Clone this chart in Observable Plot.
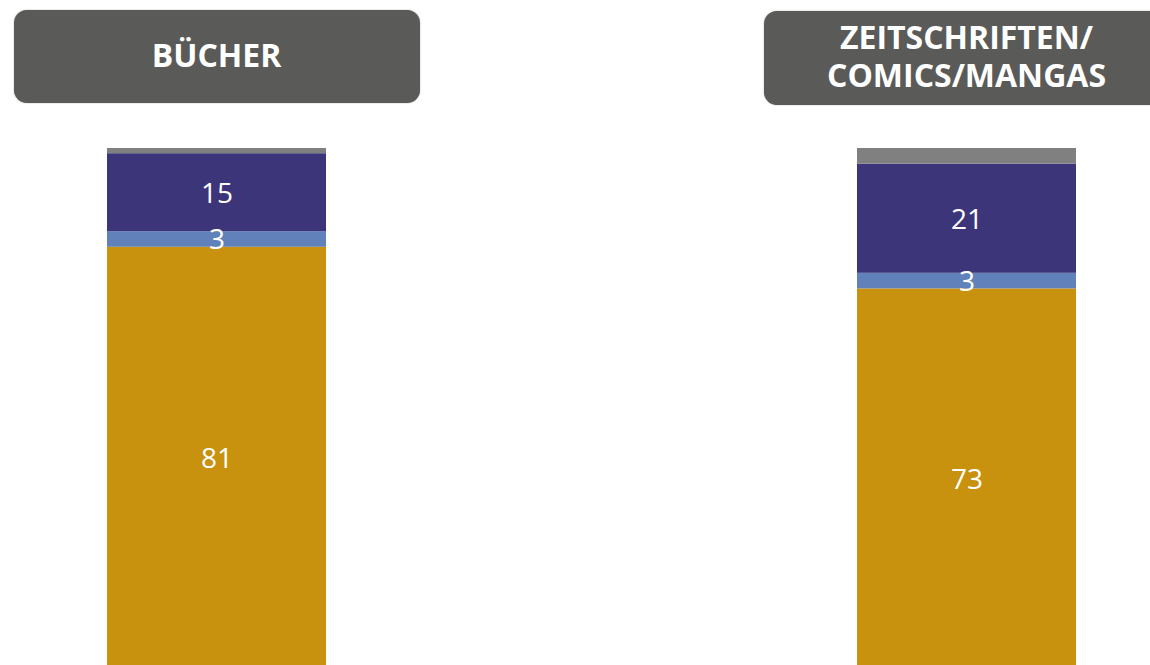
<!DOCTYPE html>
<html>
<head>
<meta charset="utf-8">
<script src="https://cdn.jsdelivr.net/npm/d3@7"></script>
<script src="https://cdn.jsdelivr.net/npm/@observablehq/plot@0.6"></script>
<style>
  html, body { margin: 0; padding: 0; background: #fff; overflow: hidden; }
  #wrap { position: relative; width: 1150px; height: 665px; overflow: hidden; font-family: "Open Sans", sans-serif; }
  #chart { position: absolute; left: 0; top: 0; }
  .hdr { position: absolute; top: 10px; width: 406px; height: 93px; background: #5a5a58; border-radius: 13px;
         color: #fff; font-weight: 700; font-size: 32px; line-height: 38px; display: flex; align-items: center;
         justify-content: center; text-align: center; white-space: pre-line; box-shadow: 0 0 1.5px #9a9a9a;
         box-sizing: border-box; padding-bottom: 4px; }
</style>
</head>
<body>
<div id="wrap"><div id="chart"></div></div>
<script>
const categories = ["BÜCHER", "ZEITSCHRIFTEN/\nCOMICS/MANGAS"];
const segments = ["Segment A", "Segment B", "Segment C", "Segment D"];
const valuesBuecher = [81, 3, 15, 1];
const valuesZeitschriften = [73, 3, 21, 3];
const labelled = ["Segment A", "Segment B", "Segment C"];

const colors = ["#c8910e", "#6181ba", "#3c357a", "#808080"];

const data = [];
[valuesBuecher, valuesZeitschriften].forEach((vals, i) => {
  vals.forEach((v, j) => data.push({category: categories[i], segment: segments[j], value: v}));
});

const plot = Plot.plot({
  width: 1150,
  height: 665,
  margin: 0,
  style: {background: "transparent", overflow: "hidden"},
  x: {domain: categories, range: [107, 1076], paddingInner: 0.708, paddingOuter: 0, axis: null},
  y: {domain: [0, 100], range: [668, 148], axis: null},
  color: {domain: segments, range: colors},
  marks: [
    Plot.barY(data, Plot.stackY({x: "category", y: "value", fill: "segment", order: null})),
    Plot.text(data, Plot.stackY({
      x: "category", y: "value", z: "segment", order: null,
      text: d => labelled.includes(d.segment) ? String(d.value) : null,
      fill: "white", fontSize: 28, fontFamily: "Open Sans", dy: 1
    }))
  ]
});
document.getElementById("chart").appendChild(plot);

// headers above each bar, centred on the band
const xs = plot.scale("x");
const wrap = document.getElementById("wrap");
categories.forEach((c, i) => {
  const cx = xs.apply(c) + xs.bandwidth / 2;
  const d = document.createElement("div");
  d.className = "hdr";
  d.textContent = c;
  d.style.left = (cx - 203) + "px";
  if (i === 1) { d.style.top = "11px"; d.style.height = "94px"; }
  wrap.appendChild(d);
});
</script>
</body>
</html>
